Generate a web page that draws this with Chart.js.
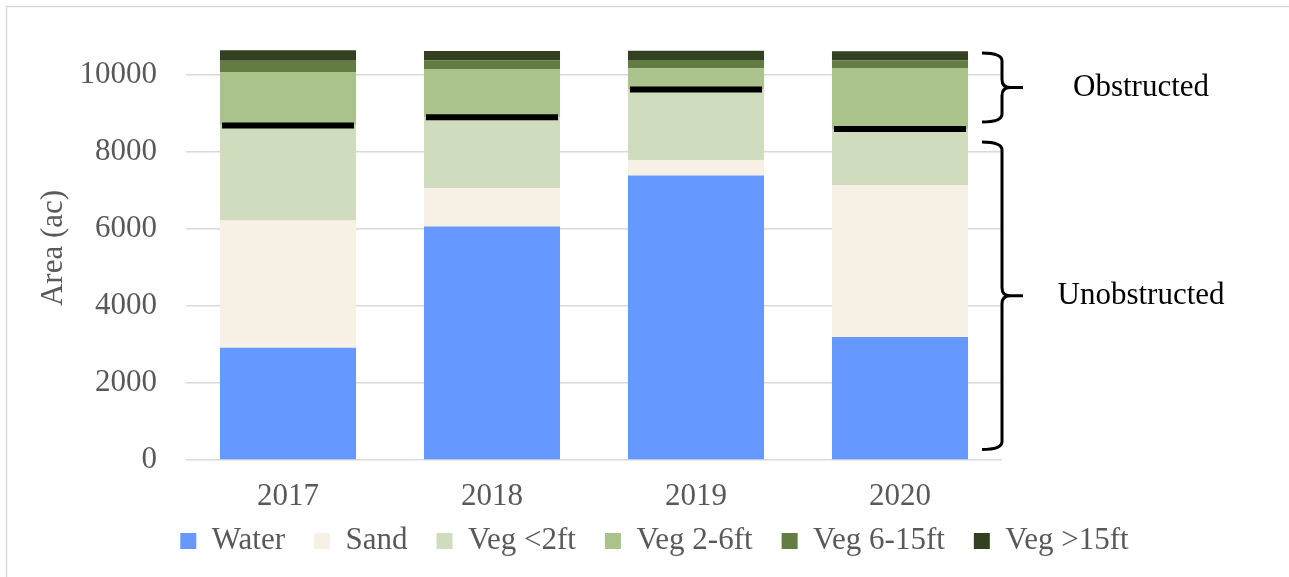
<!DOCTYPE html>
<html lang="en">
<head>
  <meta charset="UTF-8" />
  <title>Area by cover class</title>
  <script src="https://cdn.jsdelivr.net/npm/chart.js"></script>
  <style>
    body { margin: 0; background: #fff; }
    #wrap { width: 1289px; height: 577px; }
  </style>
</head>
<body>
  <div id="wrap"><canvas id="areaChart" width="1289" height="577"></canvas></div>

  <script>
    // ---- data (acres) ----
    const years = ['2017', '2018', '2019', '2020'];
    const water   = [2910, 6060, 7380, 3190];
    const sand    = [3305, 995, 405, 3935];
    const vegLt2  = [2460, 1835, 1830, 1460];
    const veg2to6 = [1375, 1240, 550, 1575];
    const veg6to15 = [310, 240, 210, 205];
    const vegGt15 = [270, 240, 240, 240];
    const yTickValues = [0, 2000, 4000, 6000, 8000, 10000];

    // obstructed / unobstructed split per year
    const thresholds = [8680, 8890, 9610, 8590];

    // brackets on the right
    const bracketLabels = ['Obstructed', 'Unobstructed'];
    const bracketFrom = [8770, 270];
    const bracketTo = [10560, 8250];

    const serif = "'Liberation Serif', 'Times New Roman', serif";
    const grey = '#595959';

    const framePlugin = {
      id: 'frame',
      beforeDraw(chart) {
        const ctx = chart.ctx;
        ctx.save();
        ctx.fillStyle = '#fff';
        ctx.fillRect(0, 0, chart.width, chart.height);
        ctx.strokeStyle = '#d9d9d9';
        ctx.lineWidth = 1.5;
        ctx.beginPath();
        ctx.moveTo(6.5, chart.height);
        ctx.lineTo(6.5, 6.5);
        ctx.lineTo(chart.width, 6.5);
        ctx.stroke();
        ctx.restore();
      },
      afterLayout(chart) {
        // pull the legend row up a little, closer to the year labels
        chart.legend.top -= 10.5;
        chart.legend.bottom -= 10.5;
      }
    };

    // black split line across each bar
    const thresholdPlugin = {
      id: 'thresholds',
      afterDatasetsDraw(chart) {
        const {ctx, scales} = chart;
        const bars = chart.getDatasetMeta(0).data;
        ctx.save();
        ctx.strokeStyle = '#000';
        ctx.lineWidth = 6;
        thresholds.forEach((v, i) => {
          const bar = bars[i];
          const y = scales.y.getPixelForValue(v);
          const half = bar.width / 2 - 2;
          ctx.beginPath();
          ctx.moveTo(bar.x - half, y);
          ctx.lineTo(bar.x + half, y);
          ctx.stroke();
        });
        ctx.restore();
      }
    };

    const bracketPlugin = {
      id: 'brackets',
      afterDraw(chart) {
        const {ctx, chartArea, scales} = chart;
        const y = scales.y;
        const x0 = chartArea.right - 20, x1 = chartArea.right, x2 = chartArea.right + 21;
        const r = 8;
        ctx.save();
        ctx.strokeStyle = '#000';
        ctx.lineWidth = 3;
        ctx.fillStyle = '#000';
        ctx.font = '31px ' + serif;
        ctx.textAlign = 'center';
        ctx.textBaseline = 'middle';
        bracketLabels.forEach((label, i) => {
          const yt = y.getPixelForValue(bracketTo[i]);
          const yb = y.getPixelForValue(bracketFrom[i]);
          const ym = (yt + yb) / 2;
          ctx.beginPath();
          ctx.moveTo(x0, yt);
          ctx.quadraticCurveTo(x1, yt, x1, yt + r);
          ctx.lineTo(x1, ym - r);
          ctx.quadraticCurveTo(x1, ym, x1 + r, ym);
          ctx.lineTo(x2, ym);
          ctx.moveTo(x1 + r, ym);
          ctx.quadraticCurveTo(x1, ym, x1, ym + r);
          ctx.lineTo(x1, yb - r);
          ctx.quadraticCurveTo(x1, yb, x0, yb);
          ctx.stroke();
          ctx.fillText(label, chartArea.right + 139, ym);
        });
        ctx.restore();
      }
    };

    const chart = new Chart(document.getElementById('areaChart'), {
      type: 'bar',
      data: {
        labels: years,
        datasets: [
          { label: 'Water', data: water, backgroundColor: '#6699FF' },
          { label: 'Sand', data: sand, backgroundColor: '#F7F0E4' },
          { label: 'Veg <2ft', data: vegLt2, backgroundColor: '#CFDCBE' },
          { label: 'Veg 2-6ft', data: veg2to6, backgroundColor: '#A9C38A' },
          { label: 'Veg 6-15ft', data: veg6to15, backgroundColor: '#627C41' },
          { label: 'Veg >15ft', data: vegGt15, backgroundColor: '#334022' }
        ]
      },
      options: {
        responsive: false,
        animation: false,
        barPercentage: 1,
        categoryPercentage: 0.667,
        layout: { padding: { left: 30, right: 10, top: 36, bottom: 0 } },
        plugins: {
          legend: {
            position: 'bottom',
            labels: {
              color: grey,
              font: { family: serif, size: 31 },
              boxWidth: 16,
              boxHeight: 16,
              padding: 29
            }
          },
          tooltip: { enabled: false }
        },
        scales: {
          x: {
            stacked: true,
            grid: { display: false, drawTicks: false },
            border: { display: false },
            ticks: { color: grey, font: { family: serif, size: 31 }, padding: 18 },
            afterFit(scale) { scale.height = 47; }
          },
          y: {
            stacked: true,
            min: 0,
            max: 11000,
            grid: { color: '#d9d9d9', lineWidth: 1.5, drawTicks: false },
            border: { display: false },
            ticks: {
              color: grey,
              font: { family: serif, size: 31, lineHeight: 0.4 },
              padding: 29,
              callback: v => String(v)
            },
            afterBuildTicks(scale) {
              scale.ticks = yTickValues.map(v => ({ value: v }));
            },
            title: {
              display: true,
              text: 'Area (ac)',
              color: grey,
              font: { family: serif, size: 31 },
              padding: { top: 5, bottom: 4 }
            },
            afterFit(scale) { scale.width = 156; }
          },
          // empty room on the right for the brackets
          yRight: {
            position: 'right',
            grid: { display: false, drawTicks: false },
            border: { display: false },
            ticks: { display: false },
            afterFit(scale) { scale.width = 277; }
          }
        }
      },
      plugins: [framePlugin, thresholdPlugin, bracketPlugin]
    });
  </script>
</body>
</html>
